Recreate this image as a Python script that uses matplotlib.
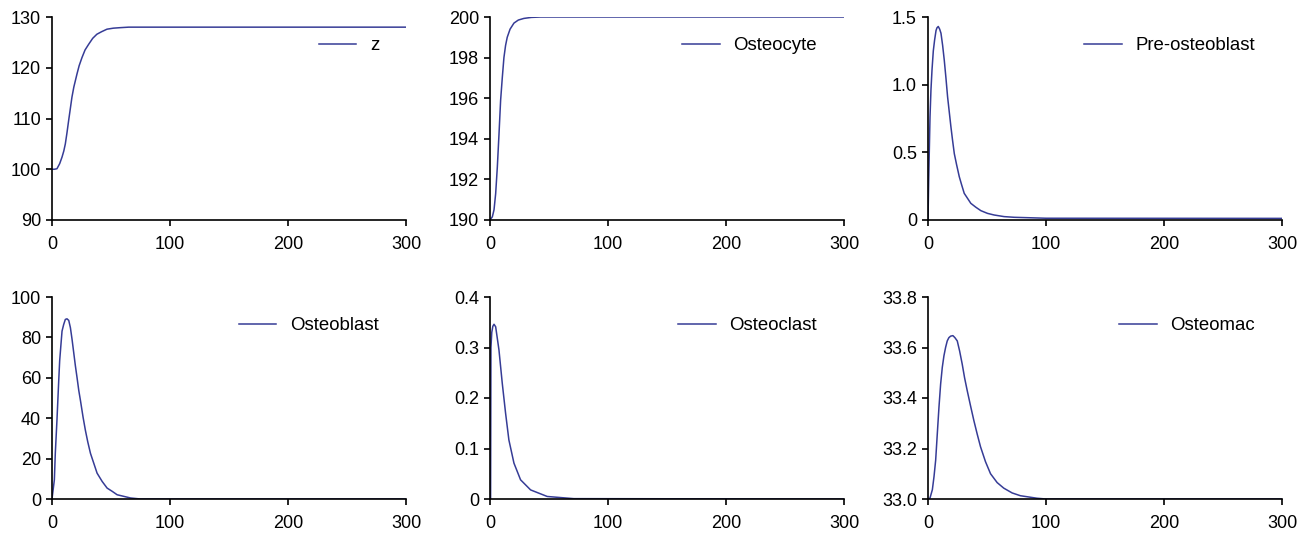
import numpy as np
import matplotlib.pyplot as plt

plt.rcParams['font.family'] = ['Liberation Sans', 'DejaVu Sans']
plt.rcParams['font.size'] = 12

# values (time, value)
t_z = [0, 2, 4.2, 6.5, 8.5, 10, 11.3, 12.7, 14.1, 15.5, 16.9, 18.5, 21.2, 23, 25.4, 28, 31, 34.5,
       38, 42, 46.6, 52, 57.9, 65, 300]
v_z = [100, 100, 100.1, 101.1, 102.4, 103.6, 105, 107.2, 109.6, 111.9, 114.2, 116.2, 118.8, 120.4,
       122, 123.5, 124.6, 125.8, 126.6, 127.1, 127.6, 127.8, 127.9, 128, 128]

t_ocy = [0, 2, 3.4, 4.8, 6.2, 7.6, 9, 10.4, 11.8, 13.2, 14.6, 17, 20.3, 24, 28.7, 35, 42.8, 300]
v_ocy = [190, 190.16, 190.5, 191.3, 192.6, 194.2, 195.9, 197.0, 198.0, 198.6, 199.0, 199.4,
         199.7, 199.85, 199.93, 199.98, 200, 200]

t_pre = [0, 0.6, 1.7, 2.5, 3.4, 4.5, 5.6, 6.8, 7.6, 8.7, 9.9, 11, 12.4, 13.8, 15.2, 16.6, 18,
         19.4, 20.8, 22.3, 24.2, 26.5, 28.5, 30.7, 33.5, 36.3, 40.6, 44.8, 50.4, 56, 64.5, 73, 100, 300]
v_pre = [0, 0.30, 0.76, 0.96, 1.11, 1.25, 1.33, 1.40, 1.42, 1.43, 1.41, 1.38, 1.29, 1.18, 1.05,
         0.91, 0.80, 0.69, 0.59, 0.49, 0.41, 0.32, 0.26, 0.197, 0.16, 0.123, 0.094, 0.069, 0.049,
         0.037, 0.025, 0.02, 0.013, 0.012]

t_ob = [0, 2, 2.8, 4.2, 5.7, 6.5, 7.6, 8.5, 9.9, 11.3, 12.7, 14.2, 15.6, 17, 18.4, 19.8, 21.2,
        22.7, 24.1, 26.3, 28.3, 30.3, 32.6, 35.4, 38.2, 42.5, 46.7, 51, 55.2, 60.9, 66.6, 75, 300]
v_ob = [0, 9.5, 22.6, 39, 58.6, 68.4, 76.6, 83.1, 86.4, 88.9, 89.2, 88.4, 84.8, 79, 72.5, 66,
        60.2, 53.7, 48.8, 40.6, 34.0, 28.3, 22.6, 17.7, 12.8, 8.7, 5.4, 3.8, 2.1, 1.3, 0.5, 0, 0]

t_ocl = [0, 0.5, 0.8, 1.5, 2.4, 3.4, 4.8, 7.6, 10.4, 13.2, 16, 20.3, 25.9, 34.4, 48.5, 71, 300]
v_ocl = [0, 0.0, 0.30, 0.33, 0.342, 0.346, 0.341, 0.295, 0.229, 0.17, 0.117, 0.071, 0.038,
         0.018, 0.005, 0.0007, 0]

t_mac = [0, 1.7, 3.7, 5.1, 6.5, 7.9, 9.3, 10.7, 12.1, 13.5, 14.9, 16.3, 17.7, 19.2, 21.1, 22.8,
         24.8, 26.8, 29, 31, 33.2, 36, 38.9, 41.7, 44.5, 48.7, 53, 58.6, 64.2, 71.3, 78.3, 92.4, 100, 300]
v_mac = [33.0, 33.004, 33.037, 33.089, 33.154, 33.26, 33.364, 33.455, 33.521, 33.567, 33.60,
         33.626, 33.639, 33.645, 33.647, 33.639, 33.626, 33.586, 33.534, 33.48, 33.43, 33.37,
         33.31, 33.257, 33.207, 33.148, 33.10, 33.065, 33.043, 33.024, 33.013, 33.003, 33.0, 33.0]

panels = [
    (t_z, v_z, 'z', [90, 100, 110, 120, 130], ['90', '100', '110', '120', '130']),
    (t_ocy, v_ocy, 'Osteocyte', [190, 192, 194, 196, 198, 200], ['190', '192', '194', '196', '198', '200']),
    (t_pre, v_pre, 'Pre-osteoblast', [0, 0.5, 1.0, 1.5], ['0', '0.5', '1.0', '1.5']),
    (t_ob, v_ob, 'Osteoblast', [0, 20, 40, 60, 80, 100], ['0', '20', '40', '60', '80', '100']),
    (t_ocl, v_ocl, 'Osteoclast', [0, 0.1, 0.2, 0.3, 0.4], ['0', '0.1', '0.2', '0.3', '0.4']),
    (t_mac, v_mac, 'Osteomac', [33.0, 33.2, 33.4, 33.6, 33.8], ['33.0', '33.2', '33.4', '33.6', '33.8']),
]

W, H = 1310, 535
fig = plt.figure(figsize=(W / 100, H / 100), dpi=100)
lefts = [52, 490, 928]
rows = [(17, 220), (297, 499)]
col = '#363c96'

for i, (t, v, name, yt, ytl) in enumerate(panels):
    r, c = divmod(i, 3)
    top, bot = rows[r]
    ax = fig.add_axes([lefts[c] / W, 1 - bot / H, 354 / W, (bot - top) / H])
    ax.plot(t, v, color=col, lw=1.1, label=name)
    ax.set_xlim(0, 300)
    ax.set_ylim(yt[0], yt[-1])
    ax.set_xticks([0, 100, 200, 300])
    ax.set_yticks(yt)
    ax.set_yticklabels(ytl)
    for s in ['top', 'right']:
        ax.spines[s].set_visible(False)
    for s in ['left', 'bottom']:
        ax.spines[s].set_linewidth(1.2)
    ax.tick_params(direction='out', length=4.5, width=1.2, labelsize=13)
    ax.tick_params(axis='x', pad=7)
    ax.tick_params(axis='y', pad=3.5)
    ax.legend(frameon=False, loc='upper right', bbox_to_anchor=(0.924, 0.90),
              borderaxespad=0, borderpad=0, handlelength=2.0, handletextpad=0.75,
              fontsize=13.4)

fig.savefig('out.png', dpi=100)
